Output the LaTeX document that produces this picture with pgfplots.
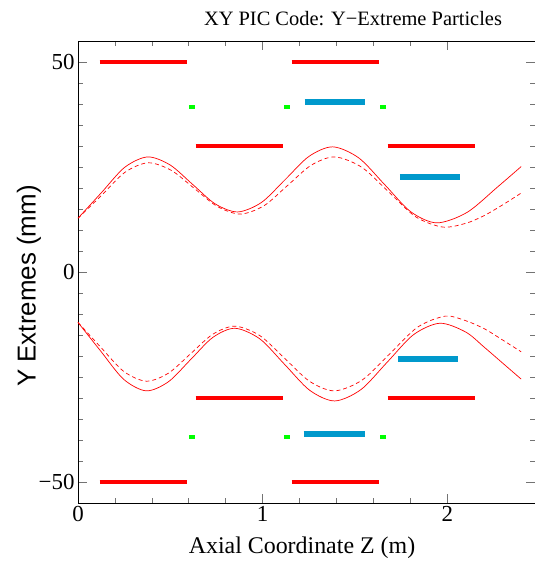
\documentclass[border=0pt]{standalone}
\usepackage{pgfplots}
\pgfplotsset{compat=1.18}
\usepackage{fontspec}
\setmainfont{Liberation Serif}
\newfontfamily\sansf{Liberation Sans}
\definecolor{barblue}{RGB}{0,153,204}
\definecolor{bargreen}{RGB}{0,255,0}
\begin{document}
\begin{tikzpicture}
\begin{axis}[
  at={(0,0)}, anchor=south west,
  scale only axis, width=457bp, height=462bp,
  xmin=0, xmax=2.475, ymin=-55, ymax=55,
  xtick={0,1,2}, xticklabels={0,1,2},
  minor x tick num=4,
  ytick={-50,0,50}, yticklabels={−50,0,50},
  minor y tick num=9,
  tick align=inside,
  major tick length=9bp, minor tick length=5bp,
  tick style={black!55, line width=0.6bp},
  axis line style={black, line width=0.8bp},
  every tick label/.append style={font=\fontsize{23}{23}\selectfont},
  unbounded coords=jump,
  clip=false,
]
% red bars
\addplot[red, line width=4.5bp] coordinates {
 (0.117,50) (0.588,50) (nan,nan) (1.157,50) (1.629,50) (nan,nan)
 (0.637,30) (1.108,30) (nan,nan) (1.677,30) (2.149,30) (nan,nan)
 (0.637,-30) (1.108,-30) (nan,nan) (1.677,-30) (2.149,-30) (nan,nan)
 (0.117,-50) (0.588,-50) (nan,nan) (1.157,-50) (1.629,-50)
};
% green markers
\addplot[bargreen, line width=4bp] coordinates {
 (0.600,39.3) (0.632,39.3) (nan,nan) (1.118,39.3) (1.150,39.3) (nan,nan) (1.638,39.3) (1.670,39.3) (nan,nan)
 (0.600,-39.3) (0.632,-39.3) (nan,nan) (1.118,-39.3) (1.150,-39.3) (nan,nan) (1.638,-39.3) (1.670,-39.3)
};
% blue bars
\addplot[barblue, line width=6bp] coordinates {
 (1.228,40.5) (1.553,40.5) (nan,nan) (1.743,22.6) (2.068,22.6) (nan,nan)
 (1.222,-38.6) (1.553,-38.6) (nan,nan) (1.733,-20.7) (2.058,-20.7)
};
% upper solid
\addplot[red, line width=0.7bp, smooth] coordinates {
 (0,12.8) (0.128,18.95) (0.253,24.93) (0.377,27.4) (0.499,25.48) (0.621,20.85) (0.743,16.22) (0.865,14.3) (0.994,16.57) (1.123,22.05) (1.251,27.53) (1.38,29.8) (1.521,27.15) (1.662,20.75) (1.802,14.35) (1.943,11.7) (2.107,14.19) (2.271,20.2) (2.40,25.1)
};
% upper dashed
\addplot[red, line width=0.7bp, smooth, dash pattern=on 4bp off 3bp] coordinates {
 (0,12.8) (0.13,18.35) (0.255,23.76) (0.38,26) (0.505,24.21) (0.63,19.9) (0.755,15.59) (0.88,13.8) (1.0075,15.79) (1.135,20.6) (1.2625,25.41) (1.39,27.4) (1.536,24.96) (1.683,19.05) (1.829,13.14) (1.975,10.7) (2.1,11.59) (2.2,13.44) (2.3,15.99) (2.4,18.8)
};
% lower solid
\addplot[red, line width=0.7bp, smooth] coordinates {
 (0,-12.0) (0.125,-18.95) (0.2475,-25.56) (0.37,-28.3) (0.49,-26.12) (0.61,-20.85) (0.73,-15.58) (0.85,-13.4) (0.985,-15.93) (1.12,-22.05) (1.255,-28.17) (1.39,-30.7) (1.5325,-27.99) (1.675,-21.45) (1.8175,-14.91) (1.96,-12.2) (2.1,-14.3) (2.2,-17.9) (2.3,-21.7) (2.4,-25.5)
};
% lower dashed
\addplot[red, line width=0.7bp, smooth, dash pattern=on 4bp off 3bp] coordinates {
 (0,-12.0) (0.125,-18.0) (0.2475,-23.66) (0.37,-26) (0.49,-24.08) (0.61,-19.45) (0.73,-14.82) (0.85,-12.9) (0.985,-15.15) (1.12,-20.6) (1.255,-26.05) (1.39,-28.3) (1.54,-25.69) (1.69,-19.4) (1.84,-13.11) (1.99,-10.5) (2.1,-11.6) (2.2,-13.5) (2.3,-16.2) (2.4,-19)
};
\end{axis}
\node[anchor=base, font=\fontsize{20.5}{20.5}\selectfont] at (275bp,477bp) {XY PIC Code: Y−Extreme Particles};
\node[anchor=base, font=\fontsize{24}{24}\selectfont] at (224bp,-50bp) {Axial Coordinate Z (m)};
\node[rotate=90, font=\sansf\fontsize{26}{26}\selectfont] at (-49bp,217bp) {Y Extremes (mm)};
\pgfresetboundingbox
\path (-78bp,-59bp) rectangle (457bp,503bp);
\end{tikzpicture}
\end{document}
